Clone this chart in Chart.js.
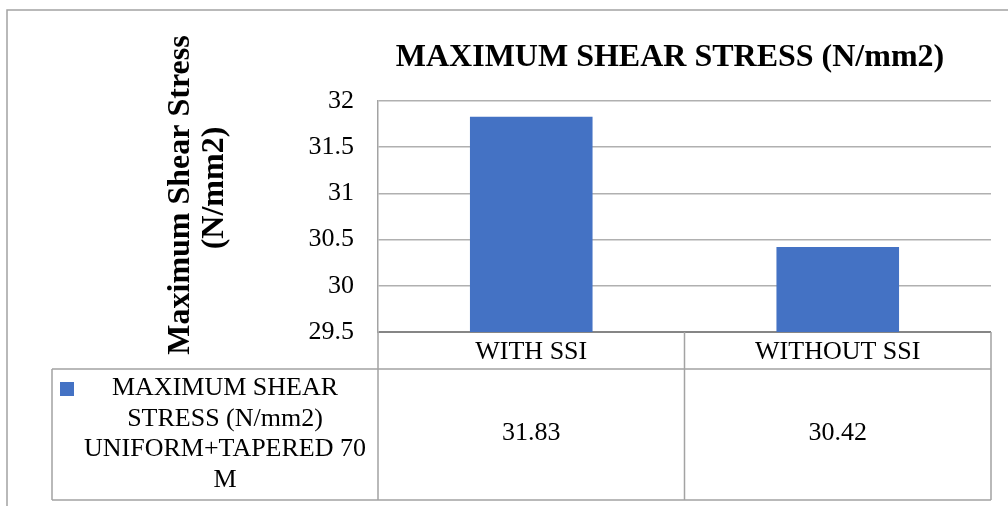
<!DOCTYPE html>
<html>
<head>
<meta charset="utf-8">
<script src="https://cdn.jsdelivr.net/npm/chart.js@4"></script>
<style>
  html, body { margin: 0; padding: 0; background: #fff; }
  #wrap { width: 1008px; height: 506px; }
</style>
</head>
<body>
<div id="wrap"><canvas id="grafico1" width="1008" height="506"></canvas></div>
<script>
// dados do gráfico
const categorias = ['WITH SSI', 'WITHOUT SSI'];
const valores = [31.83, 30.42];
const serieNome = ['MAXIMUM SHEAR', 'STRESS (N/mm2)', 'UNIFORM+TAPERED 70', 'M'];
const titulo = 'MAXIMUM SHEAR STRESS (N/mm2)';
const tituloEixoY = ['Maximum Shear Stress', '(N/mm2)'];
const yMin = 29.5, yMax = 32, yPasso = 0.5;

const corBarra = '#4472C4';
const corLinha = '#a3a3a3';
const fonte = '"Liberation Serif", "Times New Roman", serif';

// desenha moldura, títulos e a tabela de dados
const tabelaPlugin = {
    id: 'tabela',
    afterDraw(chart) {
        const c = chart.ctx;
        const area = chart.chartArea;
        const x = chart.scales.x;
        const n = categorias.length;
        const largura = (area.right - area.left) / n;
        const topo = area.bottom, meio = 369, fundo = 500, esq = 52;

        c.save();
        c.strokeStyle = corLinha;
        c.lineWidth = 1.5;
        // moldura externa (cortada à direita e embaixo)
        c.strokeRect(7, 10, 1100, 600);

        // linhas da tabela
        c.beginPath();
        c.moveTo(esq, meio); c.lineTo(area.right, meio);
        c.moveTo(esq, fundo); c.lineTo(area.right, fundo);
        c.moveTo(esq, meio); c.lineTo(esq, fundo);
        c.moveTo(area.left, topo); c.lineTo(area.left, fundo);
        for (let i = 1; i <= n; i++) {
            const xx = area.left + largura * i;
            c.moveTo(xx, topo); c.lineTo(xx, fundo);
        }
        c.stroke();

        // textos da tabela
        c.fillStyle = '#000';
        c.textAlign = 'center';
        c.textBaseline = 'middle';
        c.font = '26px ' + fonte;
        categorias.forEach((cat, i) => {
            const cx = x.getPixelForValue(i);
            c.fillText(cat, cx, 352);
            c.fillText(valores[i].toFixed(2), cx, 433);
        });
        serieNome.forEach((linha, i) => {
            c.fillText(linha, 225, 388 + i * 30.7);
        });
        c.fillStyle = corBarra;
        c.fillRect(60, 382, 14, 14);

        // título do gráfico
        c.fillStyle = '#000';
        c.font = 'bold 32px ' + fonte;
        c.fillText(titulo, 670, 58);

        // título do eixo Y
        c.translate(181, 195);
        c.rotate(-Math.PI / 2);
        c.fillText(tituloEixoY[0], 0, 0);
        c.fillText(tituloEixoY[1], 7, 34);
        c.restore();
    }
};

const ctx = document.getElementById('grafico1');

let chart = new Chart(ctx, {
    type: 'bar',
    data: {
        labels: categorias,
        datasets: [{
            label: serieNome.join(' '),
            data: valores,
            backgroundColor: corBarra,
            borderWidth: 0,
            barPercentage: 0.4,
            categoryPercentage: 1
        }]
    },
    options: {
        responsive: false,
        animation: false,
        layout: { padding: { top: 101, right: 17, bottom: 174, left: 0 } },
        plugins: {
            legend: { display: false },
            title: { display: false },
            tooltip: { enabled: false }
        },
        scales: {
            x: { display: false },
            y: {
                min: yMin,
                max: yMax,
                afterFit(scale) { scale.width = 378; },
                ticks: {
                    stepSize: yPasso,
                    padding: 24,
                    color: '#000',
                    font: { family: fonte, size: 26 },
                    callback: v => String(v)
                },
                grid: {
                    drawTicks: false,
                    lineWidth: c => c.tick && c.tick.value === yMin ? 2 : 1.5,
                    color: c => c.tick && c.tick.value === yMin ? '#868686' : '#b0b0b0'
                },
                border: { color: corLinha, width: 1.5 }
            }
        }
    },
    plugins: [tabelaPlugin]
});
</script>
</body>
</html>
